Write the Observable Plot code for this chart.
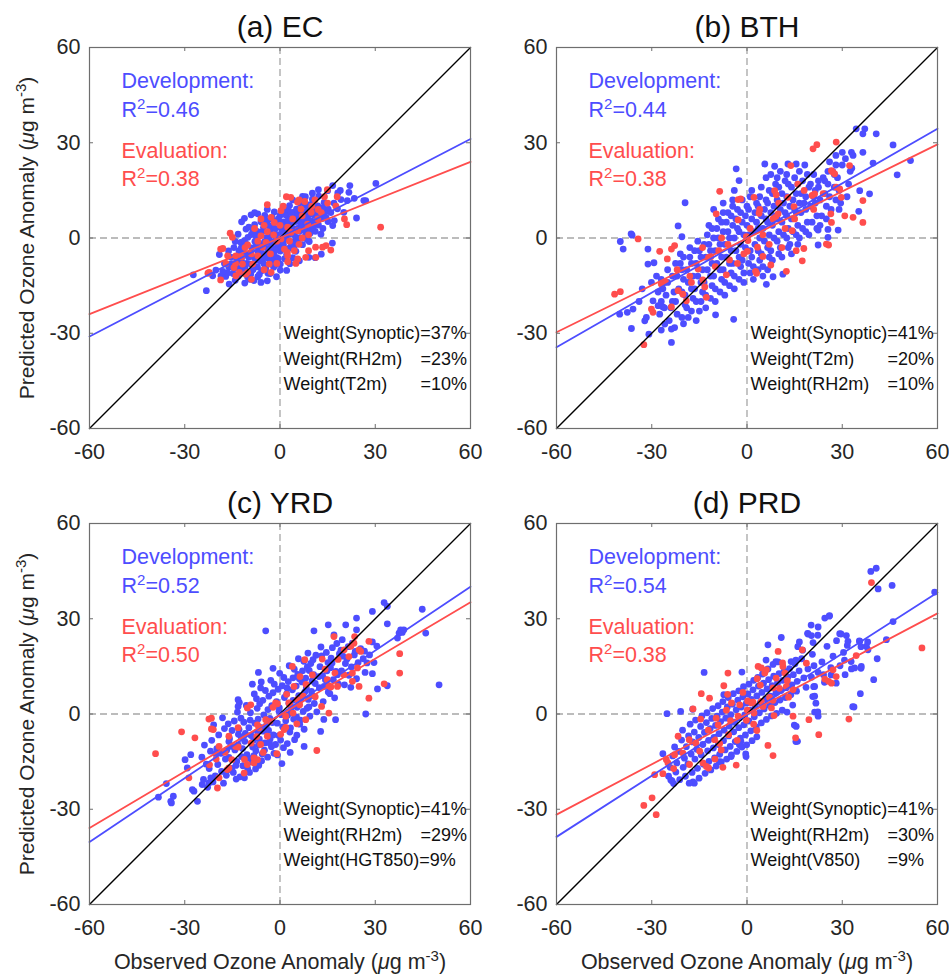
<!DOCTYPE html>
<html><head><meta charset="utf-8">
<script src="https://cdn.jsdelivr.net/npm/d3@7"></script>
<script src="https://cdn.jsdelivr.net/npm/@observablehq/plot@0.6"></script>
<style>
body{margin:0;background:#fff}
#root{position:relative;width:949px;height:974px;font-family:"Liberation Sans",Arial,sans-serif}
#root svg{position:absolute;overflow:visible}
</style></head><body><div id="root"></div>
<script>
// ---------- data ----------
const panelTitles = ["(a) EC", "(b) BTH", "(c) YRD", "(d) PRD"];
const devR2 = ["0.46", "0.44", "0.52", "0.54"];
const evalR2 = ["0.38", "0.38", "0.50", "0.38"];
const axisTicks = [-60, -30, 0, 30, 60];
const fitX = [-60, 60];
// regression line values at x = -60 and x = 60
const devFitEnds = [[-31, 31.2], [-34.4, 34.4], [-40.3, 40.1], [-38.7, 38.3]];
const evalFitEnds = [[-24, 24], [-29.7, 29.5], [-35.9, 35.2], [-31.7, 31.7]];
const weightsEC = [["Weight(Synoptic)=37%", ""], ["Weight(RH2m)", "=23%"], ["Weight(T2m)", "=10%"]];
const weightsBTH = [["Weight(Synoptic)=41%", ""], ["Weight(T2m)", "=20%"], ["Weight(RH2m)", "=10%"]];
const weightsYRD = [["Weight(Synoptic)=41%", ""], ["Weight(RH2m)", "=29%"], ["Weight(HGT850)=9%", ""]];
const weightsPRD = [["Weight(Synoptic)=41%", ""], ["Weight(RH2m)", "=30%"], ["Weight(V850)", "=9%"]];
const xLabel = "Observed Ozone Anomaly (\u03bcg m\u207b\u00b3)";
const yLabel = "Predicted Ozone Anomaly (\u03bcg m\u207b\u00b3)";

const devEC = [[-27.3,-11.6],[-23.2,-16.6],[30.2,17.2],[27,11.8],[24.1,6.3],[22,16.5],[21.7,14.4],[21.2,11.8],[16.5,-1.6],[18.2,14.2],[15,14.9],[16.6,16.5],[26.4,11.8],[23.4,12.5],[16.6,3.9],[17.1,5.5],[-18.6,-11.9],[-16,-14.5],[-9.1,7.3],[-7,7.6],[-10.7,2.8],[-12.3,-1.4],[-21.2,-11.9],
[-15.2,-8.1],[-14.8,-11.2],[-14.1,-13.3],[-13.8,-6.2],[-13.1,-9.4],[-12.9,-4.1],[-13.2,-12.1],[-12.1,-7.3],[-11.8,-10.2],[-12.2,-3.1],[-11.1,-14.2],[-10.9,-5.2],[-11.2,-0.8],[-11,-9.1],[-10.2,-12.3],[-9.9,-6.1],[-10.1,0.2],[-9.8,3.4],[-9.1,-8.2],[-8.9,-3.1],[-9.2,-11.3],[-9,1.1],[-8.1,-6.2],[-7.9,-1.1],[-8.2,-13.4],[-8,4.2],[-7.1,-9.1],[-6.9,-4.2],[-7.2,2.1],[-7,-12.2],[-6.1,-7.3],[-5.9,-2.2],[-6.2,1.2],[-6,5.1],[-5.8,-10.3],[-5.1,-5.1],[-4.9,-1.2],[-5.2,3.3],[-5,-8.2],[-4.8,7.1],[-4.1,-6.2],[-3.9,-3.3],[-4.2,0.1],[-4,4.2],[-3.8,-11.1],[-3.1,-7.2],[-2.9,-2.1],[-3.2,2.2],[-3,6.1],[-2.1,-5.3],[-1.9,-1.1],[-2.2,3.1],[-2,-9.2],[-1.8,8.2],[-1.1,-6.1],[-0.9,-3.2],[-1.2,1.1],[-1,5.2],[0.1,-4.1],[-0.1,0.1],[0.2,3.2],[0,7.1],[0.1,-8.2],[1.1,-2.1],[0.9,2.2],[1.2,5.1],[1,9.2],[2.1,-5.1],[1.9,0.1],[2.2,4.1],[2,7.2],[3.1,-3.1],[2.9,1.2],[3.2,6.1],[3,10.2],[4.1,-1.2],[3.9,3.1],[4.2,8.1],[4,-6.2],[5.1,0.1],[4.9,5.2],[5.2,9.1],[5,-4.2],[6.1,2.1],[5.9,6.2],[6.2,11.1],[7.1,-2.1],[6.9,4.2],[7.2,8.1],[8.1,1.2],[7.9,6.1],[8.2,10.2],[9.1,3.1],[8.9,7.2],[9.2,-1.1],[10.1,5.2],[9.9,9.1],[10.2,12.2],[11.1,2.1],[10.9,7.2],[12.1,4.1],[11.9,10.1],[12.2,13.2],[13.1,6.1],[12.9,1.2],[14.1,8.1],[13.9,11.2],[15.1,5.2],[13,-5.1],[15.2,9.1],[11.1,-6.2],[9.1,-6.1],[6.1,-7.2],[3.1,-8.1],[18.1,9.2],[20.1,8.1],[19.2,12.1],[-16.1,-9.2],[-17.1,-12.1],[-20.2,-10.1],[-19.1,-5.2],[-14.1,-1.1],[-13.2,1.2],[-12.1,5.1],[-11.2,6.2],[-16.2,-4.1],[-3.1,-11.2],[0.1,-10.1],[-1.1,-12.2],[2.1,-10.2],[7.1,13.1],[10.2,14.1],[12.1,15.2],
[-14.5,-9.5],[-13.5,-7.5],[-12.5,-11],[-11.5,-3.5],[-10.5,-8],[-10.5,-2],[-9.5,-5],[-9.5,-13],[-8.5,-10],[-8.5,2],[-7.5,-7],[-7.5,-2.5],[-7.5,0.5],[-6.5,-4.5],[-6.5,-11.5],[-5.5,-6.5],[-5.5,-3],[-5.5,2],[-4.5,-9.5],[-4.5,5.5],[-3.5,-4.5],[-3.5,-0.5],[-3.5,4],[-2.5,-7],[-2.5,-3],[-2.5,1],[-2.5,6.5],[-1.5,-4],[-1.5,-8.5],[-1.5,3],[-0.5,-2],[-0.5,-6.5],[-0.5,6],[0.5,-3],[0.5,1.5],[0.5,5],[1.5,-6.5],[1.5,-0.5],[1.5,3.5],[1.5,7.5],[2.5,-3.5],[2.5,2],[2.5,5.5],[2.5,9],[3.5,-1.5],[3.5,4.5],[3.5,8],[4.5,1],[4.5,6.5],[4.5,-2.5],[5.5,3],[5.5,7.5],[5.5,-1.5],[6.5,0],[6.5,4.5],[6.5,9],[7.5,2.5],[7.5,6],[7.5,11],[8.5,-0.5],[8.5,4.5],[8.5,8.5],[9.5,1.5],[9.5,5.5],[9.5,10.5],[10.5,3.5],[10.5,7.5],[11.5,5.5],[11.5,9],[12.5,7],[13.5,9.5],[13.5,3],[14.5,6.5],[-16.5,-11],[-15.5,-6],[-17.5,-8],[-18,-10.5],[-14.5,-3],[-6,-14],[-4,-13.5],[-8,8],[-4,9],[4,12],[8,13],[16,8],[17,11],[19,15]];
const evalEC = [[31.7,3.4],[21,4.2],[20.3,6],[16,-3.8],[-4,10.5],[-15.7,1.5],[-15,0.2],[-18.7,-3.5],[-22.7,-11.1],[-18.7,-13.2],[3.4,12.8],[5.5,11.3],[7.8,11.5],[14.9,15.2],[11.2,-2.9],[8.1,-6.1],[2.3,-4.5],[17.6,10],[14.5,-2.4],[13.4,-2.9],[11.3,-6.1],[5.6,-6.6],[2.4,-7.5],[-18,-3.3],[-16.5,-5.6],[-13.9,-5.6],[-22.3,-10.8],[-10.2,-2.2],[-6,6],[-2.8,6.5],[2.4,3.4],[5.6,2.3],[8.7,4.4],[-3.4,-8.2],[-2.8,-10.8],[-7,-5.6],[-8.6,-8.2],[-11.8,-8.2],[-12.8,-10.8],[-13.9,-11.9],[-10.2,-10.8],[-5.5,-2.9],[0.3,-0.3],[3.5,1.8],[9.8,8.1],[11.9,6],[6.6,9.1],[0.3,8.6],[-1.8,4.9],[-4.4,-1.4],[-6,0.7],[1.4,-3.5],[4.5,-4],[2.4,-5.6],[-9,-13],[-4,2],[7,0],[12,9],[-1,-1],[-8,3],[-14.5,-9.3],[-10.8,-11.4],
[-12,-6],[-9,-5],[-7,-1],[-5,-10],[-3,-5],[-1,-8],[0,4],[1,10],[3,-1],[4,6],[6,-2],[7,7],[9,1],[10,10],[11,12],[13,8],[15,11],[-17,-8],[-11,-3],[-5,4],[2,13],[5,-8],[9,-4],[-2,1],[-14,-8],[6,12],[14,13],[18,13]];

const devBTH = [[-39.9,-1.1],[-39,-3.5],[-36.2,0.9],[-31.2,-3.5],[-40.1,-24],[-37.7,-23.4],[-35.9,-22.4],[-36.4,-28.5],[-32.2,-26.1],[-31.7,-25],[-30.9,-30.3],[-29.6,-19.8],[-28,-21.3],[-26.5,-21.7],[-25.9,-27.1],[-23.8,-28.7],[-23.8,-32.9],[-22.8,-28.2],[-31.2,-8.2],[-29.3,-7.8],[-30.1,-14],[-19.5,11.1],[-21.7,3.8],[-20.5,0.4],[-4.2,-25.6],[-9.9,-24.2],[-3.4,21.8],[-2.5,18.1],[5.6,23.3],[8.7,22.6],[12.9,23.3],[15.5,23.3],[18.2,23],[34.4,34.4],[37.1,34.4],[36.5,32.8],[40.7,32.8],[46,29.3],[47.3,19.9],[51.5,24.4],[32.9,27],[33.4,26],[36.5,27],[39.7,23.6],[38.6,13.9],[35.2,8.4],[35.5,14.9],[6.1,-14.6],[8.2,-12.2],[11.3,-11.4],[22.4,-2.2],[25.5,0.2],[25.5,2.7],[22.4,2.5],[28.7,2.5],[31,25],[33,22],[28,26],[30,27],[-36.5,1.3],[-34,-20],[-33,-16],[-27,-29],[-20,-27],
[-28,-17],[-27.5,-24],[-28.5,-12],[-27,-20],[-25,-14],[-25.5,-18],[-24,-22],[-25,-10],[-24.5,-26],[-22,-12],[-21.5,-16],[-22.5,-20],[-21,-8],[-22,-24],[-21,-5],[-19,-10],[-18.5,-14],[-19.5,-18],[-18,-6],[-19,-22],[-18,-3],[-18.5,-25],[-16,-8],[-15.5,-12],[-16.5,-16],[-15,-4],[-16,-20],[-15.5,-1],[-16,-26],[-15,-23],[-13,-6],[-12.5,-10],[-13.5,-14],[-12,-2],[-13,-18],[-12.5,1],[-13,-22],[-12,4],[-10,-4],[-9.5,-8],[-10.5,-12],[-9,0],[-10,-16],[-9.5,3],[-10,-20],[-9,6],[-10.5,9],[-7,-2],[-6.5,-6],[-7.5,-10],[-6,2],[-7,-14],[-6.5,5],[-7,-18],[-6,8],[-7.5,11],[-4,0],[-3.5,-4],[-4.5,-8],[-3,3],[-4,-12],[-3.5,6],[-4,-16],[-3,9],[-4.5,12],[-4,15],[-1,1],[-0.5,-3],[-1.5,-7],[0,4],[-1,-11],[-0.5,7],[-1,-14],[0,10],[2,2],[2.5,-2],[1.5,-6],[3,5],[2,-9],[2.5,8],[2,-13],[3,11],[1.5,15],[5,3],[5.5,-1],[4.5,-5],[6,6],[5,-9],[5.5,9],[5,-12],[6,12],[4.5,16],[6,19],[8,4],[8.5,0],[7.5,-4],[9,7],[8,-7],[8.5,10],[8,14],[9,17],[7.5,20],[11,5],[11.5,1],[10.5,-3],[12,8],[11,-6],[11.5,11],[11,14],[12,18],[10.5,21],[14,6],[14.5,2],[13.5,-2],[15,9],[14,-5],[14.5,12],[14,16],[15,19],[17,8],[17.5,3],[16.5,0],[18,11],[17,14],[17.5,18],[16.5,21],[20,10],[20.5,5],[19.5,1],[21,13],[20,17],[21,20],[23,12],[23.5,7],[22.5,16],[24,19],[23,4],[26,13],[26.5,9],[25.5,17],[27,21],[26,24],[29,15],[29.5,11],[28.5,19],[30,23],[29,9],[32,17],[32.5,21],[31.5,13],
[-26.5,-16],[-26,-22],[-27,-13],[-23.5,-12],[-23,-17],[-23.5,-20],[-22.5,-8],[-20.5,-10],[-20,-13],[-20.5,-17],[-19.5,-21],[-20,-6],[-20.5,-25],[-17.5,-8],[-17,-12],[-17.5,-16],[-16.5,-4],[-17,-19],[-17.5,-23],[-14.5,-6],[-14,-10],[-14.5,-14],[-13.5,-2],[-14,-17],[-14.5,-20],[-11.5,-4],[-11,-8],[-11.5,-12],[-10.5,0],[-11,-15],[-11.5,-19],[-11,3],[-8.5,-2],[-8,-6],[-8.5,-10],[-7.5,2],[-8,-13],[-8.5,-17],[-8,5],[-7.5,8],[-5.5,0],[-5,-4],[-5.5,-8],[-4.5,4],[-5,-11],[-5.5,-15],[-5,7],[-4.5,10],[-2.5,2],[-2,-2],[-2.5,-6],[-1.5,5],[-2,-9],[-2.5,-13],[-2,8],[-1.5,12],[0.5,1],[1,-4],[0.5,-8],[1.5,6],[1,-11],[0.5,9],[1,13],[3.5,3],[4,0],[3.5,-4],[4.5,7],[4,-7],[3.5,10],[4,13],[3.5,-10],[6.5,5],[7,1],[6.5,-3],[7.5,8],[7,-6],[6.5,11],[7,15],[6.5,-10],[9.5,6],[10,2],[9.5,-1],[10.5,9],[10,-5],[9.5,12],[10,16],[9.5,19],[12.5,7],[13,3],[12.5,0],[13.5,10],[13,-3],[12.5,13],[13,17],[12.5,20],[15.5,8],[16,4],[15.5,1],[16.5,11],[16,-2],[15.5,14],[16,17],[18.5,9],[19,5],[18.5,13],[19.5,16],[19,20],[18.5,2],[21.5,11],[22,7],[21.5,15],[22.5,18],[22,3],[24.5,14],[25,10],[24.5,18],[25.5,21],[25,6],[27.5,16],[28,12],[27.5,20],[28,23]];
const evalBTH = [[-41.7,-17.7],[-39.9,-16.9],[-34.3,-0.3],[-32.5,-33.6],[-30.1,-22.4],[-29.6,-23.4],[-27.5,-4.2],[-25.1,-6.6],[-23.8,-3.5],[-22.8,-2.4],[-23.8,-21.7],[-27,-14.5],[-25.7,-13.8],[-21.7,-16.6],[-20.2,-17.7],[-19.1,-19.8],[-17.5,-14],[-15.4,-9.8],[-13.9,-13.2],[-13.3,-15.4],[-12.8,-18.7],[-12.1,-6.1],[-11.4,-5.9],[-9.7,7.6],[-8.6,14.7],[-8.9,-4],[-6.5,-11.6],[-5.5,-6.9],[-2.8,12.1],[-2,12.3],[-2.8,5.7],[-0.2,0.4],[0.1,-4.2],[0.3,-0.8],[2.2,12.8],[3.3,-2.9],[2.7,-10.5],[3,-11.1],[3.8,7.8],[5,-5.8],[7.5,-8.5],[8.2,6],[9,6.5],[9.8,7.6],[8.7,14.9],[9.2,13.6],[12.4,-10.5],[12.9,12.8],[14.2,2.3],[13.8,22.8],[15.5,-4],[17.9,-3.3],[17.4,-7.2],[14.8,9.9],[20.5,13.4],[21.3,13.9],[20.8,28.1],[22,29.4],[25,-1.9],[25.7,-2.2],[26.6,4.9],[26.4,7.6],[27.1,20.7],[26.6,21.2],[28.1,30.2],[29.2,15.5],[29.7,12.8],[30.8,7],[33.4,6.5],[32.3,22.8],[36.5,11.8],[36.5,4.9],[27.6,20.2],[28.1,16],
[-18,-12],[-10,-9],[-6,-2],[-3,-8],[1,3],[4,9],[7,-2],[10,11],[12,3],[15,6],[18,15],[21,9],[24,14],[-14,-3],[-8,0],[-1,-5],[5,1],[11,-3],[16,17],[-22,-10]];

const devYRD = [[-38.3,-26.2],[-35.8,-21.9],[-34.4,-27.5],[-33.6,-25.9],[-34.2,-28],[-29.9,-14.4],[-29.2,-17],[-28.1,-12.8],[-27.6,-23.8],[-27.1,-24.3],[-26,-27.5],[-24.5,-22.2],[-22.4,-21.7],[-21.8,-20.1],[-4.5,26.2],[-6.8,13.1],[-8.7,9.4],[-2.2,14.4],[-13.2,4.5],[-13.2,2.4],[27,0],[50.1,9.2],[45.9,25.5],[44.8,33],[32.8,35.1],[33.8,33.9],[33.8,28.4],[29.1,32.3],[24.1,30.2],[24.1,26.5],[20.7,28.1],[17,24.9],[15.2,28.1],[10.7,26.2],[37.5,25.5],[38,26.5],[38.5,25.7],[39,26.5],[37,23.9],[29.1,12.7],[30.7,7.9],[33.8,8.9],[17.5,-1.8],[12.8,-5.5],[7.6,-10.2],[3.2,-12.1],
[-22.3,-17.2],[-24.6,-13.6],[-21.1,-21.4],[-23.8,-9.8],[-20.4,-19.5],[-23.2,-15.8],[-21.9,-11.7],[-24.1,-20.6],[-21.5,-8.3],[-22.8,-23.1],[-20.9,-3.4],
[-17.2,-14.2],[-19.9,-10.9],[-16.6,-17.7],[-19.3,-6.6],[-17.8,-21.8],[-18.6,-12.4],[-16.1,-8.7],[-19.6,-15.9],[-17.5,-4.6],[-16.9,-19.3],[-18.1,-1.2],
[-14.2,-11.3],[-15.9,-7.8],[-13.6,-14.9],[-16.3,-3.1],[-14.7,-18.4],[-13.4,0.6],[-15.4,-10.2],[-13.1,-6.4],[-16.1,-13.7],[-14.4,-2.2],[-15.2,-17.1],[-13.8,-20.5],
[-11.1,-8.6],[-12.9,-4.9],[-10.4,-12.8],[-12.3,-1.3],[-11.7,-16.3],[-10.6,2.7],[-12.6,-19.8],[-13.2,-9.7],[-10.9,-6.1],[-12.1,-13.4],[-11.4,-2.6],[-10.2,-17.2],[-12.8,3.6],[-11.2,-20.1],
[-8.3,-8.2],[-9.8,-4.3],[-7.6,-11.6],[-9.3,0.4],[-8.8,-15.1],[-7.4,4.8],[-9.6,-18.4],[-9.1,-6.8],[-7.9,-2.9],[-8.6,-10.4],[-7.2,1.8],[-9.9,-13.9],[-8.1,6.3],[-7.7,-17.3],
[-5.3,-5.4],[-6.9,-1.6],[-4.8,-9.1],[-6.4,3.2],[-5.6,-12.6],[-4.6,7.4],[-6.7,-16.2],[-5.9,10.1],[-6.2,-4.2],[-5.1,-0.3],[-6.5,-7.9],[-5.4,4.3],[-4.9,-11.4],[-6.1,8.2],[-5.8,-14.8],
[-2.4,-2.7],[-3.8,1.4],[-2.1,-6.6],[-3.5,5.6],[-2.7,-10.3],[-1.8,9.4],[-3.9,-13.6],[-3.2,-1.4],[-2.6,2.6],[-3.6,-5.2],[-2.2,6.7],[-3.3,-9.1],[-2.9,10.6],[-1.9,-12.4],
[0.4,-0.2],[-1.1,3.9],[0.9,-4.1],[-0.6,7.8],[0.2,-8.2],[1.2,11.5],[-0.8,-12.9],[0.6,-15.6],[-0.3,0.9],[1.4,5.2],[-0.9,-2.9],[0.7,8.9],[-0.4,-6.8],[-0.1,12.8],[1.1,-10.6],
[3.6,2.1],[2.1,6.3],[4.3,-1.6],[2.6,10.2],[3.1,-5.7],[4.5,14.1],[2.3,-9.3],[2.8,3.4],[3.9,7.6],[2.4,-0.4],[4.1,11.4],[3.3,-4.4],[2.9,15.2],[4.6,-8.1],
[6.6,4.6],[5.1,8.8],[7.3,0.8],[5.6,12.5],[6.2,-3.2],[7.5,16.6],[5.3,-6.7],[5.9,5.8],[6.9,10.1],[5.4,2.1],[7.1,13.6],[6.4,-1.9],[5.8,17.4],[7.6,-4.8],
[9.9,7.1],[8.1,11.3],[10.8,3.3],[8.6,14.8],[9.4,-0.7],[11.3,18.5],[8.3,8.2],[10.6,12.4],[8.9,4.6],[9.7,15.9],[11.6,0.7],[8.8,19.2],[11.1,9.6],[9.2,13.7],[10.2,5.8],[10.4,17.1],[8.5,1.8],
[14.3,10.8],[12.6,14.9],[15.2,6.9],[13.1,18.3],[13.8,-1.7],[12.9,21.1],[13.4,12.1],[15.1,16.2],[12.4,8.3],[14.6,19.4],[13.6,3.9],
[17.6,13.4],[16.1,17.6],[18.4,9.4],[16.5,20.9],[17.2,5.1],[15.9,14.6],[18.7,18.9],[16.8,10.8],[17.9,22.2],[15.7,6.4],
[20.6,15.9],[19.2,20.1],[21.7,12.2],[19.6,23.4],[21.1,17.3],[19.4,13.6],[20.3,9.2],[21.5,21.2],
[23.4,18.6],[22.5,14.8],[24.1,11.1],[22.8,22.3],[24.6,16.2],[23.7,19.7],[22.3,8.4],[26.2,17.4],[25.4,20.6],[26.8,13.1],[27.4,16.1],[26.6,19.8],[29.1,22.7],[28.2,18.6],[30.5,21.4],[29.6,16.2],
[-20.2,-12.6],[-18.4,-18.1],[-15.1,-5.2],[-13.9,-16.2],[-11.8,-10.9],[-9.4,-1.9],[-8.2,-13.1],[-6.8,-9.8],[-4.3,-3.7],[-3.1,-7.8],[-1.4,-9.6],[-0.2,1.9],[1.8,-2.1],[2.2,8.2],[4.1,4.3],[5.2,-0.9],[6.1,11.1],[7.8,6.9],[9.1,2.2],[10.1,10.4],[12.2,11.8],[13.9,8.7],[14.8,13.6],[16.4,16.1],[18.1,12.4],[19.8,18.2],[-16.8,-11.4],[-12.2,-7.3],[-7.1,-5.6],[3.4,0.7]];
const evalYRD = [[-39.2,-12.5],[-31,-5.6],[-26.8,-7.5],[-28.7,-20.1],[-22.4,-1.6],[-21.6,-1.3],[-21.6,-4.7],[-21,-4.9],[-19.7,-23.3],[-19.2,-20.1],[-22.2,-16],[-16.6,-17.5],[-16.1,-17],[-16.1,-7],[-19.2,-10.2],[-14,-10.2],[-13.2,-10.4],[-11.3,-18.6],[-10.3,-15.9],[-10.3,1.9],[-9.2,2.9],[-8.2,-15.4],[-7.1,-14.4],[-8.2,-13.8],[-6.6,-4.4],[-7.1,-3.4],[-6.1,-9.6],[-4,-7],[-4.5,-1.8],[-1.4,3.5],[-0.8,3.2],[-1,-12.5],[1.3,-4.9],[1.8,-4.2],[1.8,-0.7],[2.8,3.5],[3.1,2.9],[3.9,15],[4.4,8.7],[5.5,4.5],[6.2,2.9],[6.3,11.8],[7.3,5.6],[7.8,17.1],[8.1,-1.8],[11.6,-11.5],[13.1,2.4],[13.3,17.3],[14.9,10.8],[15.4,0.3],[15.4,8.9],[16,8.5],[17,24.4],[17.3,12.9],[18.1,8.7],[20.2,20.2],[21.7,18.1],[22.3,21.3],[23.3,22.3],[22.8,12.9],[22.8,10.3],[24.4,14.5],[24.9,8.7],[23.5,24.4],[24.9,20.2],[25.4,19.7],[28,5],[28,22.9],[32.8,9.5],[37.7,19],[37.7,12.9],
[-17.3,-12.1],[-13.2,-4.3],[-9.1,-9.2],[-5.3,-12.1],[-3.2,-2.3],[0.2,-6.4],[2.1,6.2],[5.3,-3.1],[8.2,9.3],[11.1,5.4],[14.2,14.1],[18.3,17.2],[20.1,12.4],[-11.2,-14.3],[-7.3,-7.1],[-2.2,2.1],[4.1,0.3],[10.2,12.3],[-20.1,-14.2],[-15.2,-14.4]];

const devPRD = [[39,44.9],[40.7,45.9],[41.3,39.4],[45.7,40.5],[59.1,38.4],[46,29.1],[43.9,23.4],[41,17.4],[39.9,10.8],[35.7,6.4],[33.7,2.2],[35.5,22.9],[37.6,21.3],[38.1,20.2],[36,15],[33.9,14.5],[32.9,14.2],[29.2,25.3],[31.3,24.7],[31.8,22.9],[24.5,30.2],[26,31],[22.4,27.4],[19.2,25.2],[20.3,24.7],[20.8,22.5],[10.8,24.1],[6.6,21.8],[-1.6,13.2],[-13.5,13.1],[-25.2,0.1],[-20.9,0.8],[-26.5,-12.5],[-23.1,-21.9],[-17,-21.4],[15.9,-8.6],[15.5,-3.9],[21.3,0.6],[22.4,-0.7],[21.3,5.6],[21.3,8.7],[28.1,9.7],[6,17],[9.1,16.5],[-17.1,1.5],[-24,-20.8],[-16.6,-21.8],[-8.7,-15],[-5,-13.4],[-0.3,-13.4],[-1.9,-8.7],[-2.4,-9.7],[14.9,-3.5],[15.4,-8.7],[21.7,3.4],[22.3,0.7],[21,8.6],[20.7,5.5],[24.4,10],[26.5,12.3],[33.3,2.3],[35.9,14.4],[32.8,16.5],[30.7,17],[38,22.7],[35.4,23],[35.9,21.2],[29.6,25.2],[25.9,30.8],[22.3,24.8],[16.5,22.7],[16,21.2],[20.2,28],[19.1,25.4],[15.4,17],[13.9,16.5],[17.5,20.1],
[-24.2,-16.8],[-23.4,-13.2],[-24.7,-19.6],[-22.8,-10.4],[-23.6,-21.1],[-22.1,-15.4],[-21.5,-11.8],[-22.4,-18.3],[-20.6,-8.2],[-21.2,-20.7],[-20.3,-5.1],[-19.7,-13.9],[-19.1,-10.3],[-20.1,-16.8],[-18.4,-6.9],[-19.4,-19.6],[-17.9,-3.2],[-18.2,-21.8],[-17.6,-12.6],[-17.1,-8.8],[-18.6,-15.7],[-16.6,-5.7],[-17.3,-18.4],[-16.2,-1.9],[-15.8,-11.1],[-15.2,-7.4],[-16.4,-14.2],[-14.6,-3.9],[-15.6,-17.1],[-14.2,-0.6],[-15.1,-20.2],[-13.9,-9.6],[-13.4,-5.8],[-14.4,-12.9],[-12.8,-2.7],[-13.7,-15.8],[-12.6,0.4],[-13.2,-18.7],[-12.1,-8.3],[-11.6,-4.6],[-12.4,-11.6],[-11.1,-1.4],[-12,-14.9],[-10.8,1.7],[-11.4,-17.6],[-10.4,-7.4],[-9.9,-3.6],[-10.6,-10.7],[-9.4,-0.7],[-10.2,-13.8],[-9.1,2.6],[-9.7,-16.4],[-8.8,-6.2],[-8.3,-2.4],[-9,-9.6],[-7.8,0.6],[-8.6,-12.7],[-7.6,3.9],[-8.1,-15.1],[-7.3,6.1],[-7.2,-5.1],[-6.7,-1.3],[-7.4,-8.4],[-6.2,2.2],[-6.9,-11.3],[-5.9,5.2],[-6.4,-14.2],[-5.6,-3.8],[-5.1,-0.2],[-5.8,-6.9],[-4.6,3.1],[-5.3,-10.2],[-4.3,6.4],[-4.9,-12.9],[-3.9,-2.6],[-3.4,1.3],[-4.2,-5.6],[-2.9,4.4],[-3.7,-8.7],[-2.6,7.3],[-3.2,-11.8],[-2.3,-1.2],[-1.8,2.2],[-2.6,-4.3],[-1.3,5.4],[-2.1,-7.6],[-1.1,8.6],[-1.6,-10.4],[-0.7,-0.3],[-0.2,3.4],[-1,-3.4],[0.3,6.3],[-0.5,-6.6],[0.6,9.4],[-0.1,-9.7],[-0.4,-12.6],[0.9,1.2],[1.4,4.6],[0.6,-2.2],[1.9,7.6],[1.2,-5.3],[2.1,10.6],[1.6,-8.4],[2.6,2.4],[3.1,5.7],[2.3,-0.9],[3.6,8.8],[2.9,-4.1],[3.4,11.5],[3.1,-7.2],[4.2,3.6],[4.7,6.8],[3.9,0.4],[5.2,9.7],[4.5,-2.8],[4.9,12.6],[5.8,4.7],[6.3,7.9],[5.4,1.6],[6.8,10.8],[6.1,-1.7],[6.6,14.2],[7.4,5.6],[7.9,8.9],[7.1,2.7],[8.4,11.9],[7.7,-0.6],[8.2,15.6],[9.1,6.6],[9.6,9.8],[8.8,3.6],[10.1,12.7],[9.3,0.2],[9.8,16.4],[10.7,7.4],[11.2,10.6],[10.4,4.4],[11.7,13.5],[11.1,1.2],[12.4,8.3],[12.9,11.7],[12.1,5.2],[13.4,14.3],[12.6,0.6],[14.1,9.2],[14.6,12.4],[13.8,6.1],[15.1,15.8],[14.4,2.8],[15.8,10.3],[16.4,13.6],[15.6,7.2],[17.2,17.4],[17.9,11.4],[18.6,8.4],[19.2,14.2],[20.3,11.6],[21.1,15.2],[20.6,18.8],[22.4,13.1],[23.6,16.4],[24.1,12.4],[25.2,21.3],[26.4,14.6],[27.1,18.2],[28.2,23.1],[29.3,15.2],[30.4,19.4],[31.6,21.6],[30.9,12.4]];
const evalPRD = [[39.2,41.4],[55.1,20.8],[17.4,20.2],[18.7,16],[27.1,13.9],[28.1,11.8],[26.6,9.7],[25.7,10.3],[24.5,11],[34.4,18.4],[32.1,-1.6],[22.6,-6.5],[19.5,-1.8],[15.3,-7.5],[14.5,-0.7],[8.5,-0.5],[8.2,-13.1],[6.6,-9.9],[3.1,-5.2],[1.4,3.5],[2.2,0.3],[-0.2,-2],[-1.3,6.8],[-3.4,-16.1],[-7.6,-16.8],[-7.3,8.9],[-6,12.9],[-6.5,1.2],[-9.1,-3.4],[-9.7,-1.3],[-11.8,5],[-14.4,6.4],[-17,1.6],[-14.6,-1.6],[-21.7,-7],[-22.8,-12.8],[-25.4,-14.4],[-24.9,-15.4],[-26.5,-18.8],[-29.1,-19.1],[-28.6,-31.7],[-29.9,-26.4],[-32.5,-28.8],[-18.1,-15.9],[-14.9,-11.7],[-13.9,-15.4],[-12.8,-16.5],[-12.1,-17],[-10.2,-8.1],[-8.6,-9.3],[-5.8,-6.5],[3.5,15],[4.5,14.5],[5.6,12.9],[6.1,13.9],[8.2,8.2],[9.2,11.3],[9.8,19.7],[11.3,15],[11.9,12.9],[12.7,10.5],[12.4,8.7],[14.5,7.7],[8.2,4.3],[7.7,1.9],[5,2.4],[4.5,4],[-2.8,-0.7],[-2.3,2.9],[-4.9,3.5],[0.1,1.2],[1.9,3.7],
[-20.2,-12.3],[-16.1,-9.2],[-12.2,-5.1],[-8.1,-11.3],[-5.2,-2.1],[-3.1,-8.3],[0.2,4.1],[2.1,-3.2],[4.2,9.1],[7.1,5.2],[10.2,8.1],[13.1,5.3],[-10.1,-14.2],[-18.2,-8.1],[-6.1,6.2],[3.2,11.1],[-23.1,-17.2],[11.2,16.1]];

// ---------- drawing ----------
const BLUE = "#4d4dff", RED = "#ff4d4d", INK = "#262626", FRAME = "#6e6e6e";
const FONT = "'Liberation Sans', Arial, Helvetica, sans-serif";

const panels = [
  {i: 0, dev: devEC, evl: evalEC, w: weightsEC, left: 0, top: 0, width: 474, height: 470, ml: 89, mr: 4, mt: 47, mb: 42, ylab: true, xlab: false},
  {i: 1, dev: devBTH, evl: evalBTH, w: weightsBTH, left: 474, top: 0, width: 475, height: 470, ml: 82, mr: 12, mt: 47, mb: 42, ylab: false, xlab: false},
  {i: 2, dev: devYRD, evl: evalYRD, w: weightsYRD, left: 0, top: 470, width: 474, height: 504, ml: 89, mr: 4, mt: 53, mb: 70, ylab: true, xlab: true},
  {i: 3, dev: devPRD, evl: evalPRD, w: weightsPRD, left: 474, top: 470, width: 475, height: 504, ml: 82, mr: 12, mt: 53, mb: 70, ylab: false, xlab: true}
];

const root = document.getElementById("root");
const inner = axisTicks.slice(1, -1);
const TL = 4; // inward tick length

function addSpan(t, s, attrs) {
  const ts = document.createElementNS("http://www.w3.org/2000/svg", "tspan");
  ts.textContent = s;
  for (const k in (attrs || {})) ts.setAttribute(k, attrs[k]);
  t.appendChild(ts);
}
function richText(svg) {
  svg.querySelectorAll("text").forEach(t => {
    const s = t.textContent;
    if (s.startsWith("R\u00b2=")) {
      t.textContent = "";
      addSpan(t, "R");
      addSpan(t, "2", {dy: "-8", "font-size": "15"});
      addSpan(t, s.slice(2), {dy: "8"});
    } else if (s.endsWith("(\u03bcg m\u207b\u00b3)")) {
      const head = s.slice(0, s.length - 8);
      t.textContent = "";
      addSpan(t, head + "(");
      addSpan(t, "\u03bc", {"font-style": "italic"});
      addSpan(t, "g m");
      addSpan(t, "-3", {dy: "-8", "font-size": "15"});
      addSpan(t, ")", {dy: "8"});
    }
  });
}

for (const p of panels) {
  const plotW = p.width - p.ml - p.mr, plotH = p.height - p.mt - p.mb;
  const txt = (s, o) => Plot.text([s], {text: d => d, fontFamily: FONT, ...o});
  const marks = [
    Plot.ruleX([0], {stroke: "#a6a6a6", strokeWidth: 1.3, strokeDasharray: "7,4"}),
    Plot.ruleY([0], {stroke: "#a6a6a6", strokeWidth: 1.3, strokeDasharray: "7,4"}),
    Plot.dot(p.dev, {x: d => d[0], y: d => d[1], r: 3.4, fill: BLUE, stroke: "none"}),
    Plot.dot(p.evl, {x: d => d[0], y: d => d[1], r: 3.4, fill: RED, stroke: "none"}),
    Plot.line(fitX.map(x => [x, x]), {x: d => d[0], y: d => d[1], stroke: "#000", strokeWidth: 1.4}),
    Plot.line(fitX.map((x, k) => [x, devFitEnds[p.i][k]]), {x: d => d[0], y: d => d[1], stroke: BLUE, strokeWidth: 1.8}),
    Plot.line(fitX.map((x, k) => [x, evalFitEnds[p.i][k]]), {x: d => d[0], y: d => d[1], stroke: RED, strokeWidth: 1.8}),
    Plot.frame({stroke: FRAME, strokeWidth: 1.2}),
    Plot.tickX(inner, {x: d => d, stroke: FRAME, insetTop: plotH - TL}),
    Plot.tickX(inner, {x: d => d, stroke: FRAME, insetBottom: plotH - TL}),
    Plot.tickY(inner, {y: d => d, stroke: FRAME, insetRight: plotW - TL}),
    Plot.tickY(inner, {y: d => d, stroke: FRAME, insetLeft: plotW - TL}),
    Plot.axisX(axisTicks, {tickSize: 0, tickPadding: 15, fontSize: 21.5, tickFormat: d => String(d), color: INK, label: null, fontFamily: FONT}),
    Plot.axisY(axisTicks, {tickSize: 0, tickPadding: 9, fontSize: 21.5, tickFormat: d => String(d), color: INK, label: null, fontFamily: FONT}),
    txt(panelTitles[p.i], {frameAnchor: "top", dy: -11, lineAnchor: "bottom", fontSize: 30, fill: "#111"}),
    txt("Development:", {frameAnchor: "top-left", dx: 32, dy: 40, lineAnchor: "bottom", textAnchor: "start", fontSize: 21.5, fill: BLUE}),
    txt("R\u00b2=" + devR2[p.i], {frameAnchor: "top-left", dx: 32, dy: 69, lineAnchor: "bottom", textAnchor: "start", fontSize: 21.5, fill: BLUE}),
    txt("Evaluation:", {frameAnchor: "top-left", dx: 32, dy: 110, lineAnchor: "bottom", textAnchor: "start", fontSize: 21.5, fill: RED}),
    txt("R\u00b2=" + evalR2[p.i], {frameAnchor: "top-left", dx: 32, dy: 138.5, lineAnchor: "bottom", textAnchor: "start", fontSize: 21.5, fill: RED})
  ];
  p.w.forEach((row, k) => {
    marks.push(txt(row[0], {frameAnchor: "top-left", dx: 194, dy: 291.5 + k * 25.7, lineAnchor: "bottom", textAnchor: "start", fontSize: 18, fill: "#111"}));
    if (row[1]) marks.push(txt(row[1], {frameAnchor: "top-left", dx: 331, dy: 291.5 + k * 25.7, lineAnchor: "bottom", textAnchor: "start", fontSize: 18, fill: "#111"}));
  });
  if (p.ylab) marks.push(txt(yLabel, {frameAnchor: "left", dx: -56, rotate: -90, lineAnchor: "bottom", textAnchor: "middle", fontSize: 21, fill: INK}));
  if (p.xlab) marks.push(txt(xLabel, {frameAnchor: "bottom", dy: 64, lineAnchor: "bottom", textAnchor: "middle", fontSize: 21.5, fill: INK}));

  const svg = Plot.plot({
    width: p.width, height: p.height,
    marginLeft: p.ml, marginRight: p.mr, marginTop: p.mt, marginBottom: p.mb,
    x: {domain: [-60, 60]}, y: {domain: [-60, 60]},
    style: {fontFamily: FONT, fontSize: "21px", color: INK, background: "transparent", overflow: "visible"},
    marks
  });
  richText(svg);
  svg.style.left = p.left + "px";
  svg.style.top = p.top + "px";
  root.appendChild(svg);
}
</script></body></html>
